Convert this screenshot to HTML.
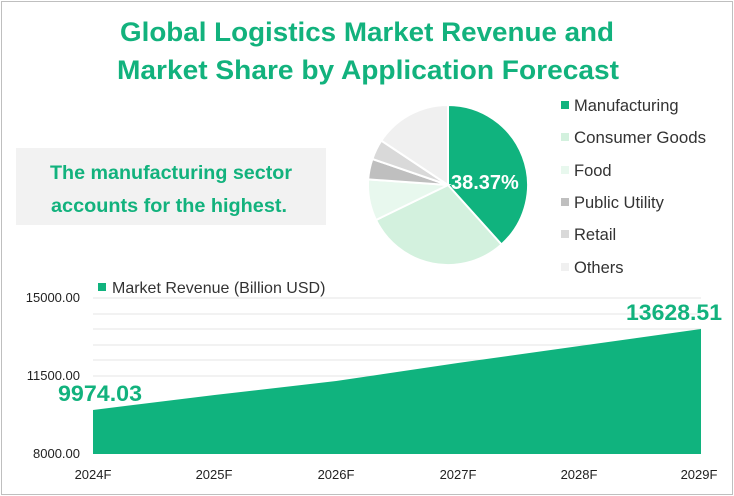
<!DOCTYPE html>
<html><head><style>
body{margin:0;width:734px;height:496px;background:#fff;overflow:hidden;font-family:"Liberation Sans",sans-serif}
.frame{position:absolute;left:1px;top:1px;width:730px;height:492px;border:1px solid #bfbfbf}
</style></head><body>
<div class="frame"></div>
<svg width="734" height="496" style="position:absolute;left:0;top:0" font-family="Liberation Sans, sans-serif">
<text x="367" y="41" text-anchor="middle" font-size="27" font-weight="bold" fill="#12b27d" textLength="494" lengthAdjust="spacingAndGlyphs">Global Logistics Market Revenue and</text>
<text x="368" y="79" text-anchor="middle" font-size="27" font-weight="bold" fill="#12b27d" textLength="502" lengthAdjust="spacingAndGlyphs">Market Share by Application Forecast</text>
<rect x="16" y="148" width="310" height="77" fill="#f2f2f2"/>
<text x="171" y="179" text-anchor="middle" font-size="19" font-weight="bold" fill="#12b27d" textLength="242" lengthAdjust="spacingAndGlyphs">The manufacturing sector</text>
<text x="169" y="212" text-anchor="middle" font-size="19" font-weight="bold" fill="#12b27d" textLength="236" lengthAdjust="spacingAndGlyphs">accounts for the highest.</text>
<g stroke="#fff" stroke-width="2">
<path d="M448,185 L448,105 A80,80 0 0 1 501.5,244.5 Z" fill="#10b37e"/>
<path d="M448,185 L501.5,244.5 A80,80 0 0 1 376,220 Z" fill="#d3f1de"/>
<path d="M448,185 L376,220 A80,80 0 0 1 368.2,179.4 Z" fill="#e8f8ee"/>
<path d="M448,185 L368.2,179.4 A80,80 0 0 1 372.4,159 Z" fill="#bfbfbf"/>
<path d="M448,185 L372.4,159 A80,80 0 0 1 381.3,140.6 Z" fill="#d9d9d9"/>
<path d="M448,185 L381.3,140.6 A80,80 0 0 1 448,105 Z" fill="#f0f0f0"/>
</g>
<text x="451" y="189" font-size="20" font-weight="bold" fill="#fff">38.37%</text>
<g font-size="16.5" fill="#333">
<rect x="561" y="101" width="8" height="8" fill="#10b37e"/><text x="574" y="111">Manufacturing</text>
<rect x="561" y="133" width="8" height="8" fill="#d3f1de"/><text x="574" y="143" textLength="132" lengthAdjust="spacingAndGlyphs">Consumer Goods</text>
<rect x="561" y="166" width="8" height="8" fill="#e8f8ee"/><text x="574" y="176">Food</text>
<rect x="561" y="198" width="8" height="8" fill="#bfbfbf"/><text x="574" y="208">Public Utility</text>
<rect x="561" y="230" width="8" height="8" fill="#d9d9d9"/><text x="574" y="240">Retail</text>
<rect x="561" y="263" width="8" height="8" fill="#f0f0f0"/><text x="574" y="273">Others</text>
</g>
<rect x="98" y="283" width="8" height="8" fill="#10b37e"/>
<text x="112" y="293" font-size="16" fill="#333">Market Revenue (Billion USD)</text>
<g stroke="#e6e6e6" stroke-width="1">
<line x1="93" x2="701" y1="298" y2="298"/><line x1="93" x2="701" y1="314" y2="314"/>
<line x1="93" x2="701" y1="329" y2="329"/><line x1="93" x2="701" y1="345" y2="345"/>
<line x1="93" x2="701" y1="360" y2="360"/><line x1="93" x2="701" y1="376" y2="376"/>
</g>
<path d="M93,410 L214.6,395 L336.2,381 L457.8,363 L579.4,346 L701,329 L701,454 L93,454 Z" fill="#10b37e"/>
<g font-size="13" fill="#222" text-anchor="end">
<text x="80" y="302">15000.00</text><text x="80" y="380">11500.00</text><text x="80" y="458">8000.00</text>
</g>
<g font-size="13" fill="#222" text-anchor="middle">
<text x="93" y="479">2024F</text><text x="214" y="479">2025F</text><text x="336" y="479">2026F</text>
<text x="458" y="479">2027F</text><text x="579" y="479">2028F</text><text x="699" y="479">2029F</text>
</g>
<text x="58" y="401" font-size="22" font-weight="bold" fill="#12b27d" textLength="84" lengthAdjust="spacingAndGlyphs">9974.03</text>
<text x="722" y="320" text-anchor="end" font-size="22" font-weight="bold" fill="#12b27d" textLength="96" lengthAdjust="spacingAndGlyphs">13628.51</text>
</svg>
</body></html>
